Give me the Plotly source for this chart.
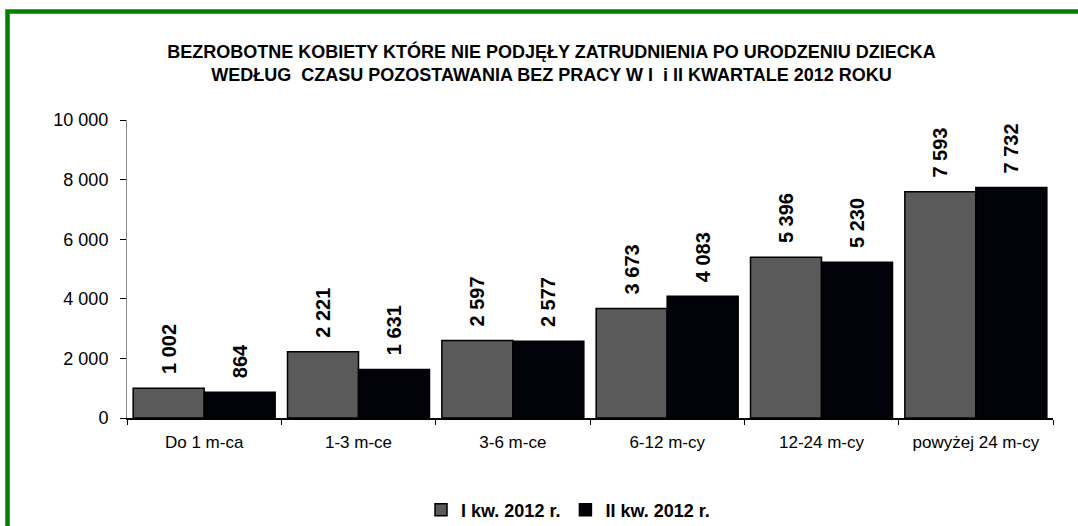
import plotly.graph_objects as go

# Czas pozostawania bez pracy (kategorie osi X)
categories = ["Do 1 m-ca", "1-3 m-ce", "3-6 m-ce", "6-12 m-cy", "12-24 m-cy", "powyżej 24 m-cy"]
# Liczba bezrobotnych kobiet w I i II kwartale 2012 r.
q1_2012 = [1002, 2221, 2597, 3673, 5396, 7593]
q2_2012 = [864, 1631, 2577, 4083, 5230, 7732]
series_names = ["I kw. 2012 r.", "II kw. 2012 r."]
y_ticks = [0, 2000, 4000, 6000, 8000, 10000]

FONT = "Liberation Sans, Arial, sans-serif"
W, H = 1078, 526
L, R, T, B = 127, 25, 120, 108
PW, PH = W - L - R, H - T - B


def px_x(px):
    return (px - L) / PW


def px_y(py):
    return (H - B - py) / PH


label_tpl = "\u00a0\u00a0%{y:,}"

fig = go.Figure()
fig.add_bar(
    x=categories, y=q1_2012, name=series_names[0],
    marker=dict(color="#5a5a5a", line=dict(color="#000000", width=1.5)),
    texttemplate=label_tpl, textposition="outside", textangle=-90,
    textfont=dict(family=FONT, size=20, color="#000000", weight="bold"),
    cliponaxis=False, constraintext="none",
)
fig.add_bar(
    x=categories, y=q2_2012, name=series_names[1],
    marker=dict(color="#02020a", line=dict(color="#000000", width=1.5)),
    texttemplate=label_tpl, textposition="outside", textangle=-90,
    textfont=dict(family=FONT, size=20, color="#000000", weight="bold"),
    cliponaxis=False, constraintext="none",
)

fig.update_layout(
    width=W, height=H,
    margin=dict(l=L, r=R, t=T, b=B, autoexpand=False),
    paper_bgcolor="white", plot_bgcolor="white",
    separators=", ",
    barmode="group", bargap=0.08, bargroupgap=0,
    font=dict(family=FONT, color="#000000"),
    title=dict(
        text="BEZROBOTNE KOBIETY KTÓRE NIE PODJĘŁY ZATRUDNIENIA PO URODZENIU DZIECKA<br>"
             "WEDŁUG  CZASU POZOSTAWANIA BEZ PRACY W I  i II KWARTALE 2012 ROKU",
        font=dict(family=FONT, size=18, color="#000000", weight="bold"),
        xref="container", x=551.5 / W, xanchor="center",
        yref="container", y=1 - 57.5 / H, yanchor="middle",
    ),
    xaxis=dict(
        showline=True, linecolor="#000000", linewidth=1.5,
        ticks="outside", tickson="boundaries", ticklen=5, tickcolor="#000000",
        tickfont=dict(family=FONT, size=17, color="#000000"),
        ticklabelstandoff=8, showgrid=False,
    ),
    yaxis=dict(
        range=[0, 10000], tickvals=y_ticks, tickformat=",",
        showline=True, linecolor="#868686", linewidth=1,
        ticks="outside", ticklen=6, tickcolor="#000000",
        tickfont=dict(family=FONT, size=18, color="#000000"),
        ticklabelstandoff=8, showgrid=False, zeroline=False,
    ),
    legend=dict(
        orientation="h", x=px_x(568), xanchor="center",
        y=px_y(510), yanchor="middle",
        font=dict(family=FONT, size=18, color="#000000", weight="bold"),
        itemwidth=30, traceorder="normal",
    ),
    shapes=[dict(
        type="rect", xref="paper", yref="paper",
        x0=px_x(7.5), x1=px_x(W + 20), y0=px_y(H + 20), y1=px_y(11.5),
        line=dict(color="#008000", width=4.5), fillcolor="rgba(0,0,0,0)",
        layer="above",
    )],
)

fig.write_html("out.html")
